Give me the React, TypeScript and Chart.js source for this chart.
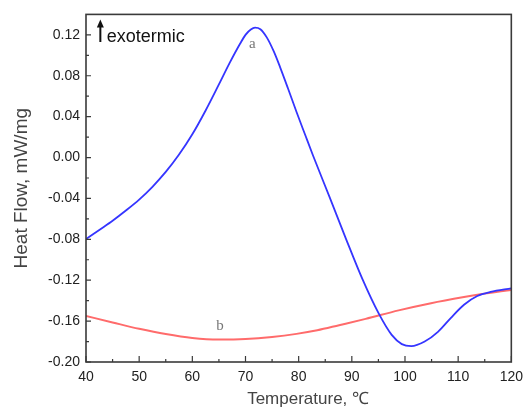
import React, { useEffect, useRef } from "react";
import { Chart, registerables } from "chart.js";
Chart.register(...registerables);

// Curve a (blue)
const tempA = [40, 42.5, 45, 47.5, 50, 52.5, 55, 57.5, 60, 62.5, 65, 67, 69, 70, 71, 71.8, 72.8, 74, 75.3, 76.5, 78, 79.6, 81.2, 82.7, 85.8, 88.9, 92, 95.1, 97.5, 99.4, 101.2, 103.7, 106.2, 108.6, 111.1, 113.6, 116.1, 120];
const flowA = [-0.0798, -0.0708, -0.0618, -0.0518, -0.0411, -0.0286, -0.0141, 0.0029, 0.0227, 0.046, 0.0715, 0.0923, 0.1115, 0.12, 0.1252, 0.127, 0.1255, 0.1175, 0.104, 0.0885, 0.0675, 0.0445, 0.0225, 0.002, -0.0385, -0.0795, -0.119, -0.153, -0.1735, -0.1825, -0.1845, -0.18, -0.1705, -0.157, -0.144, -0.1355, -0.1315, -0.128];
// Curve b (red)
const tempB = [40, 45, 50, 55, 60, 65, 70, 75, 79.6, 83.5, 87.6, 92.6, 98.8, 104.9, 111.1, 114.2, 120];
const flowB = [-0.155, -0.1613, -0.1675, -0.1727, -0.1765, -0.178, -0.1775, -0.1755, -0.1725, -0.169, -0.164, -0.1578, -0.1495, -0.1425, -0.1365, -0.1338, -0.1295];

const xTicks = [40, 50, 60, 70, 80, 90, 100, 110, 120];
const xMinor = [45, 55, 65, 75, 85, 95, 105, 115];
const yTicks = [-0.2, -0.16, -0.12, -0.08, -0.04, 0, 0.04, 0.08, 0.12];
const yMinor = [-0.18, -0.14, -0.1, -0.06, -0.02, 0.02, 0.06, 0.1];

const curveLabels = [
  { text: "a", x: 71.3, y: 0.111 },
  { text: "b", x: 65.2, y: -0.165 },
];
const exoLabel = { text: "exotermic", x: 43.9, y: 0.113, arrowX: 42.7, arrowFrom: 0.113, arrowTo: 0.135 };

const decor = {
  id: "decor",
  afterDatasetsDraw(chart: any) {
    const { ctx, chartArea: a, scales } = chart;
    const xs = scales.x, ys = scales.y;
    ctx.save();
    ctx.strokeStyle = "#3a3a3a";
    ctx.lineWidth = 1.2;
    ctx.beginPath();
    xTicks.forEach((v) => { const p = xs.getPixelForValue(v); ctx.moveTo(p, a.bottom); ctx.lineTo(p, a.bottom - 6); });
    xMinor.forEach((v) => { const p = xs.getPixelForValue(v); ctx.moveTo(p, a.bottom); ctx.lineTo(p, a.bottom - 3); });
    yTicks.forEach((v) => { const p = ys.getPixelForValue(v); ctx.moveTo(a.left, p); ctx.lineTo(a.left + 5, p); });
    yMinor.forEach((v) => { const p = ys.getPixelForValue(v); ctx.moveTo(a.left, p); ctx.lineTo(a.left + 3, p); });
    ctx.stroke();
    ctx.lineWidth = 1.6;
    ctx.strokeRect(a.left, a.top, a.right - a.left, a.bottom - a.top);

    ctx.fillStyle = "#777";
    ctx.font = "15px 'Liberation Serif'";
    ctx.textAlign = "center";
    ctx.textBaseline = "middle";
    curveLabels.forEach((l) => ctx.fillText(l.text, xs.getPixelForValue(l.x), ys.getPixelForValue(l.y)));

    // arrow + exotermic
    const ax = xs.getPixelForValue(exoLabel.arrowX);
    const y1 = ys.getPixelForValue(exoLabel.arrowFrom);
    const y2 = ys.getPixelForValue(exoLabel.arrowTo);
    ctx.strokeStyle = "#111";
    ctx.fillStyle = "#111";
    ctx.lineWidth = 2;
    ctx.beginPath();
    ctx.moveTo(ax, y1);
    ctx.lineTo(ax, y2 + 5);
    ctx.stroke();
    ctx.beginPath();
    ctx.moveTo(ax, y2);
    ctx.lineTo(ax - 3.5, y2 + 8);
    ctx.lineTo(ax + 3.5, y2 + 8);
    ctx.closePath();
    ctx.fill();
    ctx.font = "18px 'Liberation Sans'";
    ctx.textAlign = "left";
    ctx.textBaseline = "alphabetic";
    ctx.fillText(exoLabel.text, xs.getPixelForValue(exoLabel.x), ys.getPixelForValue(exoLabel.y));
    ctx.restore();
  },
};

export default function App() {
  const ref = useRef<HTMLCanvasElement>(null);
  useEffect(() => {
    document.body.style.margin = "0";
    const chart = new Chart(ref.current!, {
      type: "scatter",
      data: {
        datasets: [
          {
            data: tempA.map((t, i) => ({ x: t, y: flowA[i] })),
            showLine: true,
            borderColor: "#3535ff",
            borderWidth: 1.8,
            pointRadius: 0,
            cubicInterpolationMode: "monotone",
          },
          {
            data: tempB.map((t, i) => ({ x: t, y: flowB[i] })),
            showLine: true,
            borderColor: "#ff6b6b",
            borderWidth: 2,
            pointRadius: 0,
            cubicInterpolationMode: "monotone",
          },
        ],
      },
      options: {
        responsive: false,
        animation: false,
        layout: { padding: { top: 13, right: 12, left: 0, bottom: 0 } },
        plugins: { legend: { display: false }, tooltip: { enabled: false } },
        scales: {
          x: {
            type: "linear",
            min: 40,
            max: 120,
            grid: { display: false, drawTicks: false },
            border: { display: false },
            afterBuildTicks: (s: any) => { s.ticks = xTicks.map((v) => ({ value: v })); },
            afterFit: (s: any) => { s.height = 48; },
            ticks: { padding: 7, color: "#222", font: { family: "'Liberation Sans'", size: 14 }, maxRotation: 0, autoSkip: false, callback: (v: any) => String(v) },
            title: { display: true, text: "    Temperature, ℃", color: "#444", font: { family: "'Liberation Sans'", size: 17 }, padding: { top: 0, bottom: 0 } },
          },
          y: {
            type: "linear",
            min: -0.2,
            max: 0.14,
            grid: { display: false, drawTicks: false },
            border: { display: false },
            afterBuildTicks: (s: any) => { s.ticks = yTicks.map((v) => ({ value: v })); },
            afterFit: (s: any) => { s.width = 86; },
            ticks: { padding: 6, color: "#222", font: { family: "'Liberation Sans'", size: 14 }, autoSkip: false, callback: (v: any) => Number(v).toFixed(2) },
            title: { display: true, text: "Heat Flow, mW/mg", color: "#444", font: { family: "'Liberation Sans'", size: 19 }, padding: { top: 10, bottom: 0 } },
          },
        },
      },
      plugins: [decor],
    });
    return () => chart.destroy();
  }, []);
  return (
    <div style={{ position: "fixed", left: 0, top: 0, width: 530, height: 410, background: "#fff" }}>
      <canvas ref={ref} width={530} height={410} />
    </div>
  );
}
